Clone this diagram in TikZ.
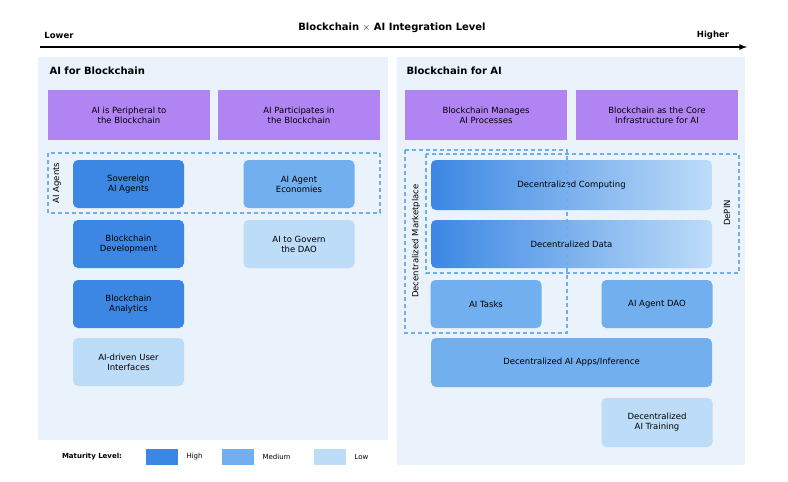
\documentclass[tikz,border=0pt]{standalone}
\usepackage{fontspec}
\setmainfont{DejaVu Sans}
\begin{document}
\begin{tikzpicture}[x=1pt,y=-1pt,
 panel/.style={fill=bgc,draw=none},
 hdr/.style={fill=purp,draw=none,align=center,font=\fontsize{8.5}{10}\selectfont},
 box/.style={rounded corners=5pt,draw=none,align=center,font=\fontsize{8.5}{10}\selectfont},
 high/.style={box,fill=hc}, med/.style={box,fill=mc}, low/.style={box,fill=lc},
 grad/.style={box,left color=hc,right color=lc},
 dbox/.style={draw=dc,line width=1.1pt,dash pattern=on 4pt off 3pt},
 lab/.style={font=\fontsize{8.5}{10}\selectfont,rotate=90}]
\definecolor{bgc}{HTML}{EAF2FB}
\definecolor{purp}{HTML}{B184F4}
\definecolor{hc}{HTML}{3C87E4}
\definecolor{mc}{HTML}{72AFEE}
\definecolor{lc}{HTML}{BDDCF8}
\definecolor{dc}{HTML}{6FAEEB}
\useasboundingbox (0,0) rectangle (788,482);
\node[font=\bfseries\fontsize{10}{12}\selectfont] (title) at (392,28) {Blockchain $\times$ AI Integration Level};
\node[font=\bfseries\fontsize{8.5}{10}\selectfont] (lo) at (59,35) {Lower};
\node[font=\bfseries\fontsize{8.5}{10}\selectfont] (hi) at (713,35) {Higher};
\coordinate (a1) at (40,47); \coordinate (a2) at (747,47);
\draw[line width=1.6pt,-latex] (a1) -- (a2);
\fill[panel] (38,57) rectangle (388,440);
\fill[panel] (397,57) rectangle (745,465);
\node[anchor=west,font=\bfseries\fontsize{10}{12}\selectfont] (lt) at (46,71) {AI for Blockchain};
\node[anchor=west,font=\bfseries\fontsize{10}{12}\selectfont] (rt) at (403,71) {Blockchain for AI};
\node[hdr,minimum width=162pt,minimum height=50pt] (h1) at (129,115) {AI is Peripheral to\\the Blockchain};
\node[hdr,minimum width=162pt,minimum height=50pt] (h2) at (299,115) {AI Participates in\\the Blockchain};
\node[hdr,minimum width=162pt,minimum height=50pt] (h3) at (486,115) {Blockchain Manages\\AI Processes};
\node[hdr,minimum width=162pt,minimum height=50pt] (h4) at (657,115) {Blockchain as the Core\\Infrastructure for AI};
\tikzset{sb/.style={minimum width=111pt,minimum height=48pt}}
\node[high,sb] (s1) at (128.5,184) {Sovereign\\AI Agents};
\node[med,sb] (s2) at (299,184) {AI Agent\\Economies};
\node[high,sb] (s3) at (128.5,244) {Blockchain\\Development};
\node[low,sb] (s4) at (299,244) {AI to Govern\\the DAO};
\node[high,sb] (s5) at (128.5,304) {Blockchain\\Analytics};
\node[low,sb] (s6) at (128.5,362) {AI-driven User\\Interfaces};
\draw[dbox] (48,153) rectangle (380,213);
\node[lab] (ag) at (57,183) {AI Agents};
\node[grad,minimum width=281pt,minimum height=50pt] (r1) at (571.5,185) {Decentralized Computing};
\node[grad,minimum width=281pt,minimum height=48pt] (r2) at (571.5,244) {Decentralized Data};
\node[med,sb] (r3) at (486,304) {AI Tasks};
\node[med,sb] (r4) at (657,304) {AI Agent DAO};
\node[med,minimum width=281pt,minimum height=49pt] (r5) at (571.5,362.5) {Decentralized AI Apps/Inference};
\node[low,sb,minimum height=49pt] (r6) at (657,422.5) {Decentralized\\AI Training};
\draw[dbox] (405,150) rectangle (567,333);
\draw[dbox] (426,154) rectangle (739,273);
\node[lab] (dm) at (416,241) {Decentralized Marketplace};
\node[lab] (dp) at (727,213) {DePIN};
\node[font=\bfseries\fontsize{7}{8}\selectfont] (ml) at (92,457) {Maturity Level:};
\fill[hc] (146,449) rectangle (178,465); \node[font=\fontsize{7}{8}\selectfont,anchor=west] (l1) at (183,457) {High};
\fill[mc] (222,449) rectangle (254,465); \node[font=\fontsize{7}{8}\selectfont,anchor=west] (l2) at (259,457) {Medium};
\fill[lc] (314,449) rectangle (346,465); \node[font=\fontsize{7}{8}\selectfont,anchor=west] (l3) at (351,457) {Low};
\end{tikzpicture}
\end{document}
